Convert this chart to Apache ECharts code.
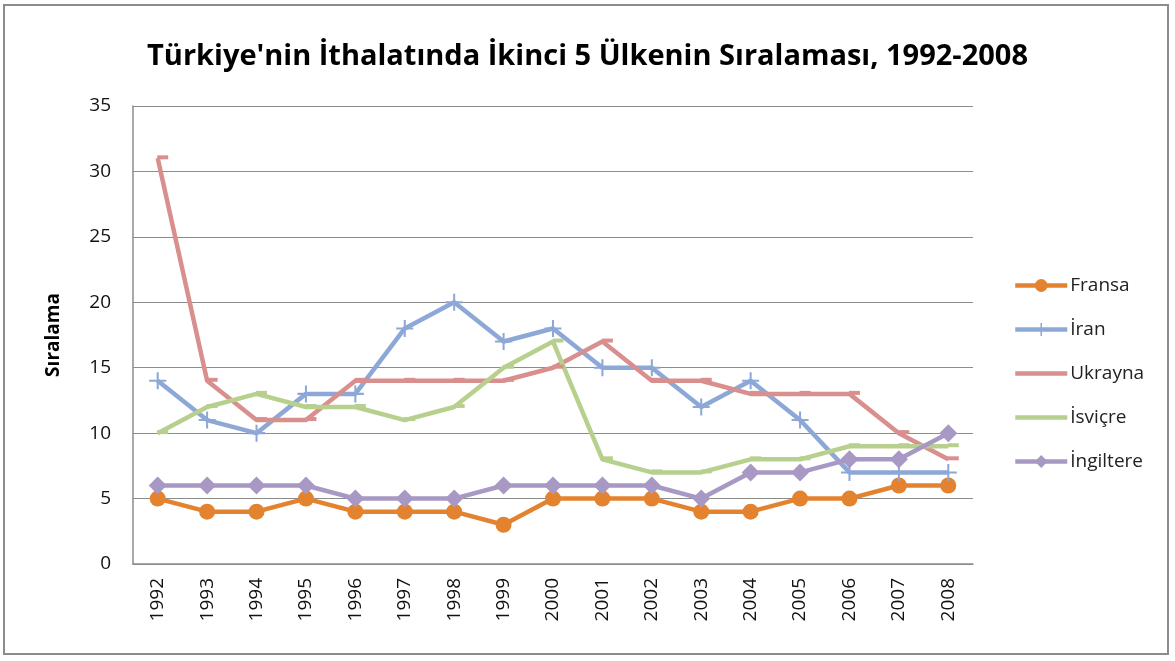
<!DOCTYPE html>
<html><head><meta charset="utf-8">
<script src="https://cdn.jsdelivr.net/npm/echarts@6/dist/echarts.min.js"></script>
<style>
html,body{margin:0;padding:0;background:#fff;}
#c{position:absolute;left:0;top:0;width:1175px;height:661px;}
#f{position:absolute;left:3px;top:4px;width:1166px;height:651px;border:2px solid #8c8c8c;box-sizing:border-box;pointer-events:none;}
</style></head>
<body><div id="c"></div><div id="f"></div>
<script>
const years = ['1992','1993','1994','1995','1996','1997','1998','1999','2000','2001','2002','2003','2004','2005','2006','2007','2008'];
const fransa    = [5,4,4,5,4,4,4,3,5,5,5,4,4,5,5,6,6];
const iran      = [14,11,10,13,13,18,20,17,18,15,15,12,14,11,7,7,7];
const ukrayna   = [31,14,11,11,14,14,14,14,15,17,14,14,13,13,13,10,8];
const isvicre   = [10,12,13,12,12,11,12,15,17,8,7,7,8,8,9,9,9];
const ingiltere = [6,6,6,6,5,5,5,6,6,6,6,5,7,7,8,8,10];
const yTicks = [0,5,10,15,20,25,30,35];

const font = "'Open Sans','DejaVu Sans',sans-serif";
const plusPath = 'path://M4.4,0 L5.6,0 L5.6,4.4 L10,4.4 L10,5.6 L5.6,5.6 L5.6,10 L4.4,10 L4.4,5.6 L0,5.6 L0,4.4 L4.4,4.4 Z';
const dashPath = 'path://M0,0 L10,0 L10,3 L0,3 Z';

function mk(name, data, color, symbol, size, offset) {
  return {
    name, type:'line', data, symbol, symbolSize:size, symbolOffset: offset || [0,0],
    showSymbol:true,
    lineStyle:{color, width:4.5},
    itemStyle:{color, borderWidth:0},
    emphasis:{disabled:true}, animation:false
  };
}

const chart = echarts.init(document.getElementById('c'));
chart.setOption({
  backgroundColor:'#fff',
  animation:false,
  title:{text:"Türkiye'nin İthalatında İkinci 5 Ülkenin Sıralaması, 1992-2008",
    left:'center', top:37,
    textStyle:{fontFamily:font, fontSize:29, fontWeight:'bold', color:'#000'}},
  grid:{left:133, right:202, top:106, bottom:97},
  legend:{orient:'vertical', left:1008, top:271, itemGap:25, itemWidth:52, itemHeight:16,
    lineStyle:{width:4.5},
    textStyle:{fontFamily:font, fontSize:19, color:'#222', padding:[0,0,0,-2]},
    data:[{name:'Fransa'},{name:'İran'},
      {name:'Ukrayna', itemStyle:{opacity:0}},
      {name:'İsviçre', itemStyle:{opacity:0}},
      {name:'İngiltere'}]},
  xAxis:{type:'category', data:years, boundaryGap:true,
    axisLine:{lineStyle:{color:'#8c8c8c', width:1.5}},
    axisTick:{show:false},
    axisLabel:{rotate:90, fontFamily:font, fontSize:19, color:'#111', margin:14}},
  yAxis:{type:'value', min:0, max:35, interval:5,
    name:'Sıralama', nameLocation:'middle', nameGap:70, nameRotate:90,
    nameTextStyle:{fontFamily:font, fontSize:19, fontWeight:'bold', color:'#000'},
    axisLine:{show:true, lineStyle:{color:'#8c8c8c', width:1.5}},
    axisTick:{show:false},
    splitLine:{lineStyle:{color:'#8c8c8c', width:1.2}},
    axisLabel:{fontFamily:font, fontSize:19, color:'#111', margin:22,
      formatter: v => yTicks.includes(v) ? String(v) : ''}},
  series:[
    mk('Fransa', fransa, '#E3832F', 'circle', 16),
    mk('İran', iran, '#8DA8D6', plusPath, 17),
    mk('Ukrayna', ukrayna, '#D88F8D', dashPath, [11,4], [5,-1]),
    mk('İsviçre', isvicre, '#B7D08E', dashPath, [11,4], [5,-1]),
    mk('İngiltere', ingiltere, '#A898C4', 'diamond', 18)
  ]
});
</script></body></html>
